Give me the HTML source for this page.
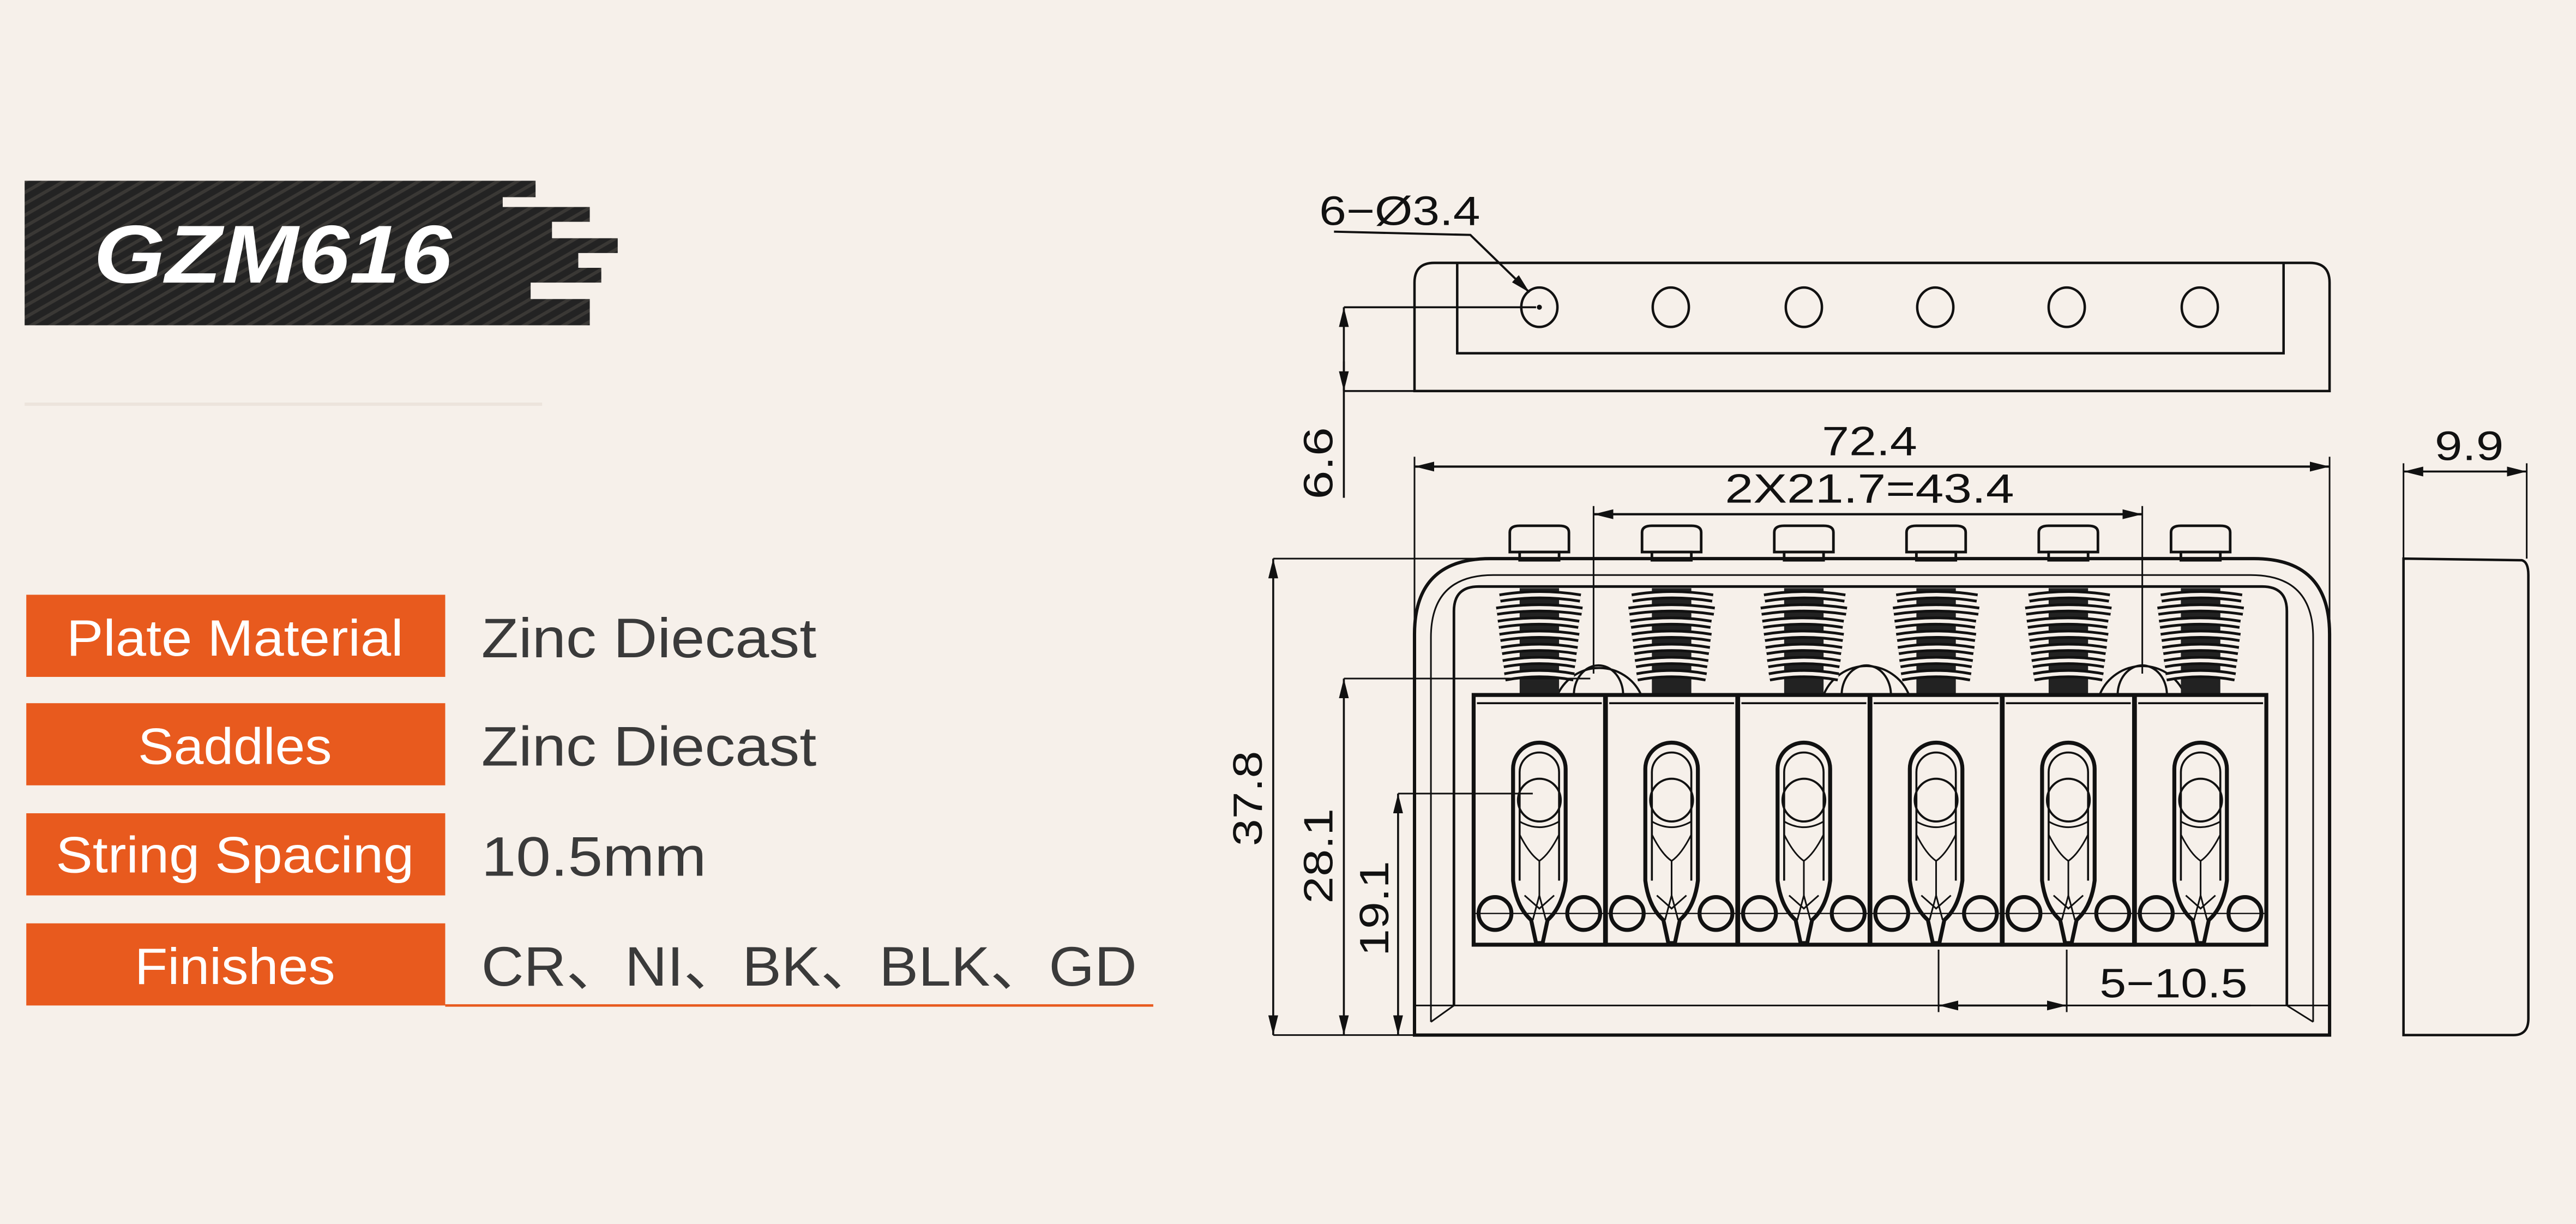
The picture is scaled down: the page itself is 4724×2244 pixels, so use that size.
<!DOCTYPE html>
<html><head><meta charset="utf-8"><style>
html,body{margin:0;padding:0;background:#f6f0ea;}
svg{display:block;}
</style></head><body>
<svg width="4724" height="2244" viewBox="0 0 1568 745" preserveAspectRatio="none" xmlns="http://www.w3.org/2000/svg">
<defs>
<pattern id="cf" width="6" height="6" patternUnits="userSpaceOnUse" patternTransform="rotate(60)">
<rect width="6" height="6" fill="#232323"/><rect width="2" height="6" fill="#3a3835"/>
</pattern>
<g id="screw" fill="none" stroke="#111" stroke-width="1.6">
<path d="M-18,336 L-18,324 Q-18,320 -12,320 L12,320 Q18,320 18,324 L18,336 Z"/>
<rect x="-12" y="336" width="24" height="5"/>
</g>
<g id="spring" stroke="#111" fill="none">
<rect x="-12" y="358" width="24" height="64" fill="#222" stroke="none"/>
<g stroke-width="5.5">
<path d="M-24,364 Q0,360 25,364"/>
<path d="M-26,372 Q0,368 26,372"/>
<path d="M-25,380 Q0,376 24,380"/>
<path d="M-24,388 Q0,384 24,388"/>
<path d="M-23,396 Q0,392 23,396"/>
<path d="M-22,404 Q0,400 22,404"/>
<path d="M-21,412 Q0,408 21,412"/>
</g>
<g stroke="#f6f0ea" stroke-width="2.2">
<path d="M-24,364 Q0,360 25,364"/>
<path d="M-26,372 Q0,368 26,372"/>
<path d="M-25,380 Q0,376 24,380"/>
<path d="M-24,388 Q0,384 24,388"/>
<path d="M-23,396 Q0,392 23,396"/>
<path d="M-22,404 Q0,400 22,404"/>
<path d="M-21,412 Q0,408 21,412"/>
</g>
</g>
<g id="saddle" fill="none" stroke="#111">
<rect x="-40" y="423" width="80" height="152" stroke-width="2.4"/>
<line x1="-38" y1="428" x2="38" y2="428" stroke-width="1.2"/>
<line x1="-40" y1="556" x2="40" y2="556" stroke-width="0.8"/>
<path d="M-16,536 L-16,468 A16,16 0 0 1 16,468 L16,536 Q14,552 5,560 L2,574 L-2,574 L-5,560 Q-14,552 -16,536 Z" stroke-width="2.4"/>
<path d="M-12,536 L-12,470 A12,12 0 0 1 12,470 L12,536" stroke-width="1.2"/>
<circle cx="0" cy="487" r="13" stroke-width="1.3"/>
<path d="M-12,500 Q0,507 12,500 M-12,508 Q-6,520 0,524 Q6,520 12,508 M0,524 L0,545 M-9,545 L0,553 L9,545 M-4,560 L0,545 L4,560" stroke-width="1"/>
<circle cx="-27" cy="556" r="10" stroke-width="2.4"/>
<circle cx="27" cy="556" r="10" stroke-width="2.4"/>
</g>
<marker id="ar" viewBox="0 0 12 6" refX="12" refY="3" markerWidth="12" markerHeight="6" markerUnits="userSpaceOnUse" orient="auto-start-reverse"><path d="M0,0 L12,3 L0,6 Z" fill="#111"/></marker>
</defs>

<!-- Logo -->
<polygon fill="url(#cf)" points="15,110 326,110 326,120 306,120 306,126 359,126 359,135 336,135 336,145 376,145 376,154 352,154 352,163 366,163 366,172 323,172 323,182 359,182 359,198 15,198"/>
<text x="57" y="172" font-family="Liberation Sans, sans-serif" font-weight="bold" font-style="italic" font-size="50" fill="#fff" textLength="218" lengthAdjust="spacingAndGlyphs">GZM616</text>
<line x1="15" y1="246" x2="330" y2="246" stroke="#ece4dc" stroke-width="2"/>

<!-- Table -->
<g font-family="Liberation Sans, sans-serif">
<rect x="16" y="362" width="255" height="50" fill="#e85a1e"/>
<rect x="16" y="428" width="255" height="50" fill="#e85a1e"/>
<rect x="16" y="495" width="255" height="50" fill="#e85a1e"/>
<rect x="16" y="562" width="255" height="50" fill="#e85a1e"/>
<g fill="#fff" font-size="31" text-anchor="middle">
<text x="143" y="399" textLength="205" lengthAdjust="spacingAndGlyphs">Plate Material</text>
<text x="143" y="465" textLength="118" lengthAdjust="spacingAndGlyphs">Saddles</text>
<text x="143" y="531" textLength="218" lengthAdjust="spacingAndGlyphs">String Spacing</text>
<text x="143" y="599" textLength="122" lengthAdjust="spacingAndGlyphs">Finishes</text>
</g>
<g fill="#3a3a3a" font-size="34">
<text x="293" y="400" textLength="204" lengthAdjust="spacingAndGlyphs">Zinc Diecast</text>
<text x="293" y="466" textLength="204" lengthAdjust="spacingAndGlyphs">Zinc Diecast</text>
<text x="293" y="533" textLength="137" lengthAdjust="spacingAndGlyphs">10.5mm</text>
<text x="293" y="600" font-family="Liberation Sans, 'Noto Sans CJK SC', sans-serif" textLength="399" lengthAdjust="spacingAndGlyphs">CR、NI、BK、BLK、GD</text>
</g>
<line x1="271" y1="612" x2="702" y2="612" stroke="#e85a1e" stroke-width="1.5"/>
</g>

<!-- Drawing -->
<g fill="none" stroke="#111" stroke-width="1.5" font-family="Liberation Sans, sans-serif">
<path d="M861,238 L861,172 Q861,160 873,160 L1406,160 Q1418,160 1418,172 L1418,238 Z"/>
<path d="M887,160 L887,215 L1390,215 L1390,160"/>
<g stroke-width="1.5">
<ellipse cx="937" cy="187" rx="11" ry="12"/>
<ellipse cx="1017" cy="187" rx="11" ry="12"/>
<ellipse cx="1098" cy="187" rx="11" ry="12"/>
<ellipse cx="1178" cy="187" rx="11" ry="12"/>
<ellipse cx="1258" cy="187" rx="11" ry="12"/>
<ellipse cx="1339" cy="187" rx="11" ry="12"/>
</g>
<circle cx="937" cy="187" r="0.8" fill="#111"/>
<polyline points="812,141 895,143 931,178" stroke-width="1.3" marker-end="url(#ar)"/>
<line x1="818" y1="187" x2="935" y2="187" stroke-width="1.2"/>
<line x1="818" y1="238" x2="868" y2="238" stroke-width="1.2"/>
<line x1="818" y1="303" x2="818" y2="187" stroke-width="1.2" marker-end="url(#ar)"/>
<line x1="818" y1="220" x2="818" y2="238" stroke-width="1.2" marker-end="url(#ar)"/>

<line x1="861" y1="284" x2="1418" y2="284" stroke-width="1.4" marker-start="url(#ar)" marker-end="url(#ar)"/>
<line x1="861" y1="278" x2="861" y2="630" stroke-width="1"/>
<line x1="1418" y1="278" x2="1418" y2="630" stroke-width="1"/>
<line x1="970" y1="313" x2="1304" y2="313" stroke-width="1.4" marker-start="url(#ar)" marker-end="url(#ar)"/>
<line x1="970" y1="308" x2="970" y2="410" stroke-width="1"/>
<line x1="1304" y1="308" x2="1304" y2="410" stroke-width="1"/>

<path d="M861,630 L861,386 Q861,340 907,340 L1372,340 Q1418,340 1418,386 L1418,630 Z" stroke-width="2"/>
<path d="M871,622 L871,388 Q871,350 909,350 L1370,350 Q1408,350 1408,388 L1408,622" stroke-width="1"/>
<path d="M885,612 L885,372 Q885,357 900,357 L1377,357 Q1392,357 1392,372 L1392,612" stroke-width="1.6"/>
<line x1="861" y1="612" x2="1418" y2="612" stroke-width="1"/>
<path d="M871,622 L885,612 M1408,622 L1392,612" stroke-width="1"/>

<g stroke-width="1.3">
<path d="M948,423 A28,28 0 0 1 999,423"/><path d="M958,423 A15,18 0 1 1 988,423"/>
<path d="M1110,423 A28,28 0 0 1 1162,423"/><path d="M1121,423 A15,18 0 1 1 1151,423"/>
<path d="M1278,423 A28,28 0 0 1 1330,423"/><path d="M1289,423 A15,18 0 1 1 1319,423"/>
</g>

<use href="#spring" x="937"/><use href="#spring" x="1017.5"/><use href="#spring" x="1098"/>
<use href="#spring" x="1178.5"/><use href="#spring" x="1259"/><use href="#spring" x="1339.5"/>
<use href="#screw" x="937"/><use href="#screw" x="1017.5"/><use href="#screw" x="1098"/>
<use href="#screw" x="1178.5"/><use href="#screw" x="1259"/><use href="#screw" x="1339.5"/>
<use href="#saddle" x="937"/><use href="#saddle" x="1017.5"/><use href="#saddle" x="1098"/>
<use href="#saddle" x="1178.5"/><use href="#saddle" x="1259"/><use href="#saddle" x="1339.5"/>

<line x1="775" y1="340" x2="925" y2="340" stroke-width="1"/>
<line x1="775" y1="630" x2="861" y2="630" stroke-width="1"/>
<line x1="775" y1="340" x2="775" y2="630" stroke-width="1.2" marker-start="url(#ar)" marker-end="url(#ar)"/>
<line x1="818" y1="413" x2="968" y2="413" stroke-width="1"/>
<line x1="818" y1="413" x2="818" y2="630" stroke-width="1.2" marker-start="url(#ar)" marker-end="url(#ar)"/>
<line x1="851" y1="483" x2="933" y2="483" stroke-width="1"/>
<line x1="851" y1="483" x2="851" y2="630" stroke-width="1.2" marker-start="url(#ar)" marker-end="url(#ar)"/>

<line x1="1180" y1="578" x2="1180" y2="616" stroke-width="1"/>
<line x1="1258" y1="578" x2="1258" y2="616" stroke-width="1"/>
<line x1="1180" y1="612" x2="1258" y2="612" stroke-width="1.2" marker-start="url(#ar)" marker-end="url(#ar)"/>
<line x1="1258" y1="612" x2="1370" y2="612" stroke-width="1"/>

<path d="M1463,630 L1463,340 L1535,341 Q1539,342 1539,350 L1539,620 Q1539,630 1530,630 Z" stroke-width="1.5"/>
<line x1="1463" y1="282" x2="1463" y2="340" stroke-width="1"/>
<line x1="1538" y1="282" x2="1538" y2="340" stroke-width="1"/>
<line x1="1463" y1="287" x2="1538" y2="287" stroke-width="1.2" marker-start="url(#ar)" marker-end="url(#ar)"/>
</g>

<g fill="#111" font-family="Liberation Sans, sans-serif" font-size="25">
<text x="803" y="137" textLength="98" lengthAdjust="spacingAndGlyphs">6−Ø3.4</text>
<text x="1138" y="277" text-anchor="middle" textLength="58" lengthAdjust="spacingAndGlyphs">72.4</text>
<text x="1138" y="306" text-anchor="middle" textLength="176" lengthAdjust="spacingAndGlyphs">2X21.7=43.4</text>
<text x="1503" y="280" text-anchor="middle" textLength="42" lengthAdjust="spacingAndGlyphs">9.9</text>
<text x="1278" y="607" textLength="90" lengthAdjust="spacingAndGlyphs">5−10.5</text>
<text transform="translate(811,304) rotate(-90)" textLength="44" lengthAdjust="spacingAndGlyphs">6.6</text>
<text transform="translate(768,515) rotate(-90)" textLength="58" lengthAdjust="spacingAndGlyphs">37.8</text>
<text transform="translate(811,550) rotate(-90)" textLength="58" lengthAdjust="spacingAndGlyphs">28.1</text>
<text transform="translate(845,582) rotate(-90)" textLength="58" lengthAdjust="spacingAndGlyphs">19.1</text>
</g>
</svg>
</body></html>
